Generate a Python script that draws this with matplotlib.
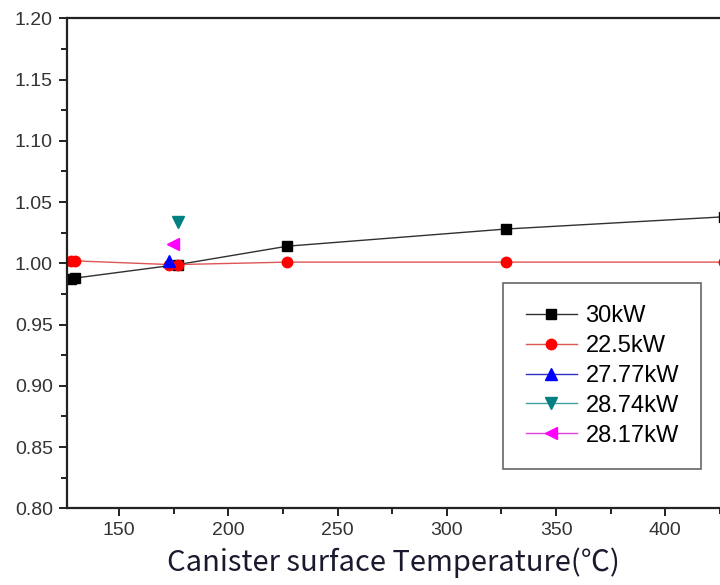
import matplotlib.pyplot as plt
from matplotlib.ticker import MultipleLocator

# data
t_30 = [128, 130, 177, 227, 327, 427]
r_30 = [0.987, 0.988, 0.999, 1.014, 1.028, 1.038]

t_225 = [128, 130, 173, 177, 227, 327, 427]
r_225 = [1.002, 1.002, 0.999, 0.999, 1.001, 1.001, 1.001]

t_2777 = [173]
r_2777 = [1.002]

t_2874 = [177]
r_2874 = [1.034]

t_2817 = [174.5]
r_2817 = [1.016]

fig = plt.figure(figsize=(7.2, 5.85), dpi=100)
ax = fig.add_axes([0.0926, 0.131, 0.9074, 0.8377])

ax.plot(t_30, r_30, color="#303030", lw=1.0, marker="s", ms=7, mfc="black", mec="black", label="30kW")
ax.plot(t_225, r_225, color="#dd5555", lw=1.0, marker="o", ms=7.5, mfc="red", mec="red", label="22.5kW")
ax.plot(t_2777, r_2777, color="#3030c0", lw=1.0, marker="^", ms=8, mfc="blue", mec="blue", label="27.77kW")
ax.plot(t_2874, r_2874, color="#40a0a0", lw=1.0, marker="v", ms=8, mfc="#008080", mec="#008080", label="28.74kW")
ax.plot(t_2817, r_2817, color="#e040e0", lw=1.0, marker="<", ms=8, mfc="magenta", mec="magenta", label="28.17kW")

ax.set_xlim(126, 425)
ax.set_ylim(0.80, 1.20)
ax.xaxis.set_major_locator(MultipleLocator(50))
ax.xaxis.set_minor_locator(MultipleLocator(25))
ax.yaxis.set_major_locator(MultipleLocator(0.05))
ax.yaxis.set_minor_locator(MultipleLocator(0.025))
ax.yaxis.set_major_formatter(plt.FormatStrFormatter("%.2f"))

for s in ["left", "bottom", "top"]:
    ax.spines[s].set_linewidth(1.6)
    ax.spines[s].set_color("#222222")
ax.spines["right"].set_visible(False)

ax.tick_params(which="both", direction="out", top=False, right=False, width=1.4, color="#222222")
ax.tick_params(which="major", length=6, labelsize=14, labelcolor="#333333", pad=4)
ax.tick_params(which="minor", length=4)
for lab in ax.get_xticklabels() + ax.get_yticklabels():
    lab.set_family("Liberation Sans")

ax.set_xlabel("Canister surface Temperature(℃)", fontsize=21, family=["Noto Sans CJK KR", "DejaVu Sans"],
              color="#1a1a2e", labelpad=6)

leg = ax.legend(loc="upper left", bbox_to_anchor=(0.668, 0.46), fancybox=False, edgecolor="#666666",
                framealpha=1, prop={"family": "Liberation Sans", "size": 17}, handlelength=2.2,
                handletextpad=0.34, labelspacing=0.33, borderpad=0.95, borderaxespad=0)
leg.get_frame().set_linewidth(1.2)

fig.savefig("out.png", dpi=100)
